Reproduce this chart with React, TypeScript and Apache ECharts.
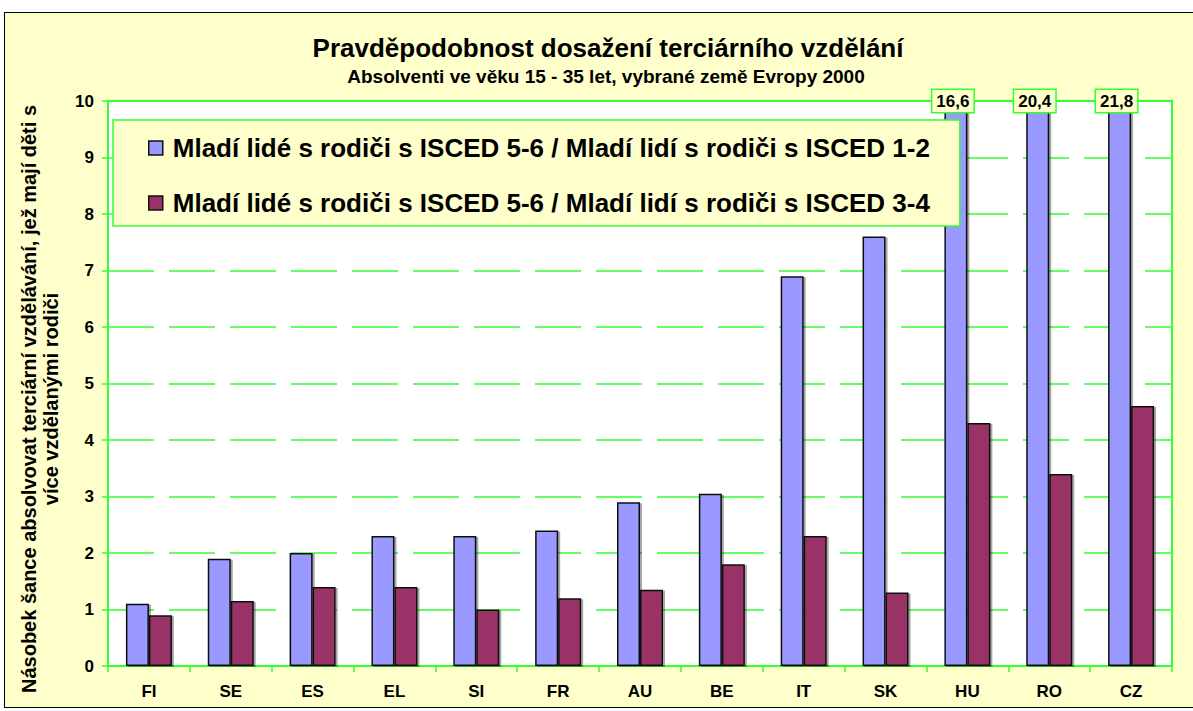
import React, { useEffect, useRef } from "react";
import * as echarts from "echarts";

const categories = ["FI", "SE", "ES", "EL", "SI", "FR", "AU", "BE", "IT", "SK", "HU", "RO", "CZ"];
const seriesNames = [
  "Mladí lidé s rodiči s ISCED 5-6 / Mladí lidí s rodiči s ISCED 1-2",
  "Mladí lidé s rodiči s ISCED 5-6 / Mladí lidí s rodiči s ISCED 3-4",
];
const ratioLow = [1.1, 1.9, 2.0, 2.3, 2.3, 2.4, 2.9, 3.05, 6.9, 7.6, 16.6, 20.4, 21.8];
const ratioMid = [0.9, 1.15, 1.4, 1.4, 1.0, 1.2, 1.35, 1.8, 2.3, 1.3, 4.3, 3.4, 4.6];
const yMax = 10;
const title = "Pravděpodobnost dosažení terciárního vzdělání";
const subtitle = "Absolventi ve věku 15 - 35 let, vybrané země Evropy 2000";
const yName1 = "Násobek šance absolvovat terciární vzdělávání, jež mají děti s";
const yName2 = "více vzdělanými rodiči";

const FONT = "'Liberation Sans', Arial, sans-serif";
const GREEN = "#33ff33";
const YELLOW = "#ffffcc";

export default function App() {
  const ref = useRef<HTMLDivElement>(null);
  useEffect(() => {
    document.body.style.margin = "0";
    if (!ref.current) return;
    const chart = echarts.init(ref.current, undefined, { renderer: "svg" });
    const fmt = (v: number) => v.toFixed(1).replace(".", ",");
    const overflow = ratioLow
      .map((v, i) => ({ v, i }))
      .filter((d) => d.v > yMax)
      .map((d) => ({ coord: [categories[d.i], yMax], value: d.v }));
    const barStyle = (color: string) => ({
      color,
      borderColor: "#111",
      borderWidth: 1.5,
      shadowColor: "rgba(0,0,0,0.35)",
      shadowOffsetX: 2,
      shadowOffsetY: 1,
      shadowBlur: 0,
    });
    chart.setOption({
      animation: false,
      textStyle: { fontFamily: FONT },
      grid: {
        left: 108,
        right: 21,
        top: 101,
        bottom: 45,
        show: true,
        backgroundColor: "#ffffff",
        borderColor: GREEN,
        borderWidth: 2,
      },
      graphic: [
        {
          type: "text",
          x: 608,
          y: 48,
          style: {
            text: title,
            font: `bold 26px ${FONT}`,
            fill: "#000",
            textAlign: "center",
            textVerticalAlign: "middle",
          },
        },
        {
          type: "text",
          x: 606,
          y: 76,
          style: {
            text: subtitle,
            font: `bold 19px ${FONT}`,
            fill: "#000",
            textAlign: "center",
            textVerticalAlign: "middle",
          },
        },
        {
          type: "text",
          x: 40,
          y: 399,
          rotation: Math.PI / 2,
          style: {
            text: yName1 + "\n" + yName2,
            font: `bold 20px ${FONT}`,
            lineHeight: 22,
            fill: "#000",
            textAlign: "center",
            textVerticalAlign: "middle",
          },
        },
      ],
      legend: {
        orient: "vertical",
        left: 113,
        top: 120,
        padding: [15, 30, 10, 35],
        itemGap: 29,
        itemWidth: 14,
        itemHeight: 14,
        icon: "rect",
        backgroundColor: YELLOW,
        borderColor: GREEN,
        borderWidth: 1.5,
        textStyle: {
          fontFamily: FONT,
          fontWeight: "bold",
          fontSize: 26,
          lineHeight: 26,
          color: "#000",
          padding: [0, 0, 0, 5],
        },
        itemStyle: { borderColor: "#111", borderWidth: 1.5 },
      },
      xAxis: {
        type: "category",
        data: categories,
        axisLine: { lineStyle: { color: GREEN, width: 2 } },
        axisTick: { show: true, length: 6, lineStyle: { color: GREEN, width: 1.5 } },
        axisLabel: { color: "#000", fontWeight: "bold", fontSize: 17, margin: 17, fontFamily: FONT },
      },
      yAxis: {
        type: "value",
        min: 0,
        max: yMax,
        interval: 1,
        axisLine: { show: true, lineStyle: { color: GREEN, width: 2 } },
        axisTick: { show: true, length: 6, lineStyle: { color: GREEN, width: 1.5 } },
        axisLabel: { color: "#000", fontWeight: "bold", fontSize: 17, margin: 14, fontFamily: FONT },
        splitLine: { show: true, lineStyle: { color: GREEN, width: 1.5, type: [46, 15] } },
      },
      series: [
        {
          name: seriesNames[0],
          type: "bar",
          data: ratioLow,
          barWidth: 23,
          barGap: "0%",
          clip: true,
          itemStyle: barStyle("#9999ff"),
          markPoint: {
            symbol: "rect",
            symbolSize: 0,
            data: overflow,
            label: {
              show: true,
              position: "inside",
              offset: [-3, 0],
              formatter: (p: any) => fmt(p.value),
              color: "#000",
              fontWeight: "bold",
              fontSize: 17,
              fontFamily: FONT,
              backgroundColor: YELLOW,
              borderColor: GREEN,
              borderWidth: 1.5,
              padding: [3, 4, 2, 4],
            },
          },
        },
        {
          name: seriesNames[1],
          type: "bar",
          data: ratioMid,
          barWidth: 23,
          barGap: "0%",
          clip: true,
          itemStyle: barStyle("#993366"),
        },
      ],
    });
    return () => chart.dispose();
  }, []);
  return (
    <div style={{ position: "absolute", left: 0, top: 0, width: 1193, height: 711, background: "#fff", overflow: "hidden" }}>
      <div
        style={{
          position: "absolute",
          left: 4,
          top: 12,
          width: 1220,
          height: 694,
          border: "1px solid #000",
          background: YELLOW,
        }}
      />
      <div ref={ref} style={{ position: "absolute", left: 0, top: 0, width: 1193, height: 711 }} />
    </div>
  );
}
